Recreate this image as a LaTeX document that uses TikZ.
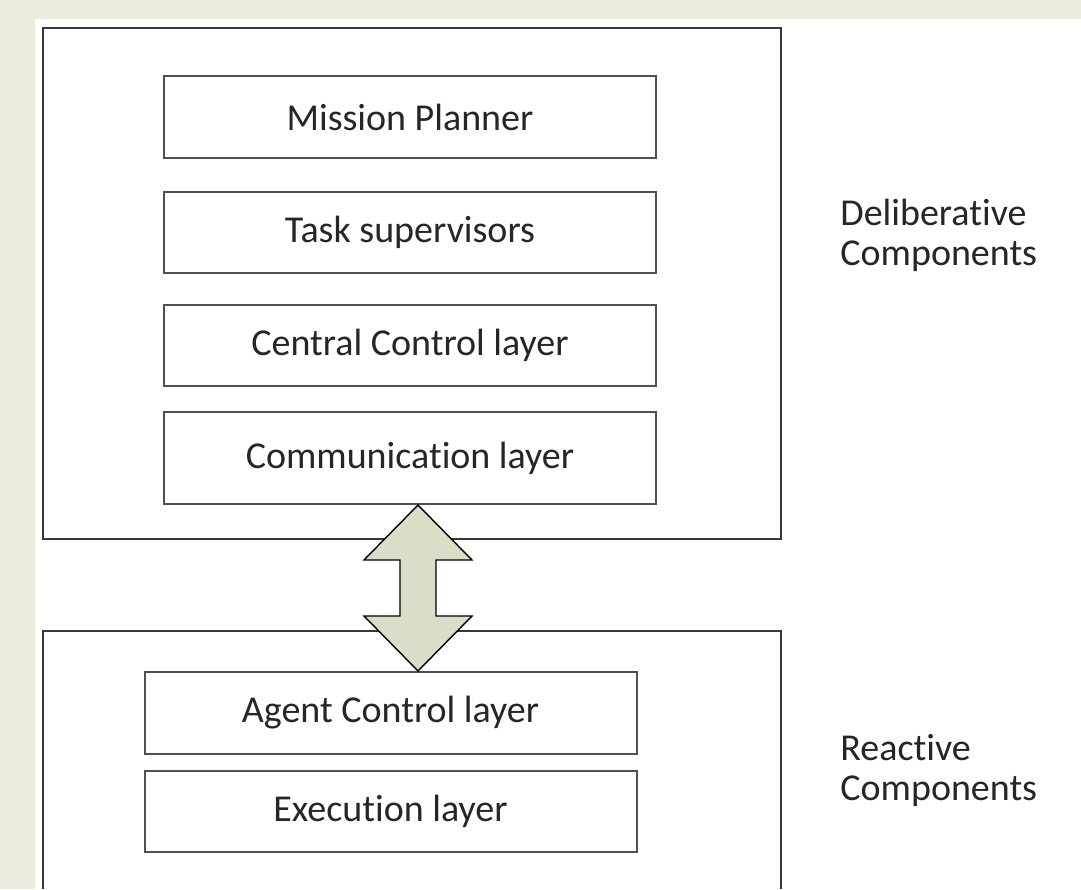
\documentclass[tikz,border=0pt]{standalone}
\usepackage{fontspec}
\setmainfont{Carlito}[Ligatures=NoCommon]
\usetikzlibrary{positioning, calc}
\definecolor{pagebg}{HTML}{EDEAE0}
\definecolor{boxline}{HTML}{505050}
\definecolor{arrowfill}{HTML}{D8DEC8}
\tikzset{x=0.5pt,y=-0.5pt,
  layer/.style={draw=boxline, line width=1pt, minimum width=246pt, minimum height=40.5pt, inner sep=0pt, font=\fontsize{19}{20}\selectfont, text=black!85},
  group/.style={draw=boxline!70!black, line width=1pt},
  side/.style={align=left, anchor=base west, inner sep=0pt, font=\fontsize{19}{20}\selectfont, text=black!85},
  dblarrow/.style={draw=black, fill=arrowfill, line width=0.7pt, line join=miter}}

\begin{document}
\begin{tikzpicture}
\fill[pagebg] (0,0) rectangle (1081,889);
\fill[white] (35,19) rectangle (1081,889);
\useasboundingbox (0,0) rectangle (1081,889);

\draw[group] (43,28) rectangle (781,539);
\node[layer, minimum height=41pt] (mission) at (410,117) {Mission Planner};
\node[layer, below=16pt of mission] (task) {Task supervisors};
\node[layer, below=15pt of task] (central) {Central Control layer};
\node[layer, minimum height=46pt, below=12pt of central] (comm) {Communication layer};

\draw[group] (43,889) -- (43,631) -- (781,631) -- (781,889);
\node[layer, minimum height=41pt] (agent) at (390.5,713) {Agent Control layer};
\node[layer, below=7.5pt of agent] (exec) {Execution layer};

\node[side] (delib) at (840,265) {Deliberative\\Components};
\node[side] (react) at (840,800) {Reactive\\Components};

\path (comm.south) ++(8,0) coordinate (uptip);
\path (agent.north) ++(27.5,0) coordinate (downtip);
\draw[dblarrow] (uptip) -- ++(54,55) -- ++(-36,0) -- ($(downtip)+(18,-55)$) -- ++(36,0)
  -- (downtip) -- ++(-54,-55) -- ++(36,0) -- ($(uptip)+(-18,55)$) -- ++(-36,0) -- cycle;
\end{tikzpicture}
\end{document}
